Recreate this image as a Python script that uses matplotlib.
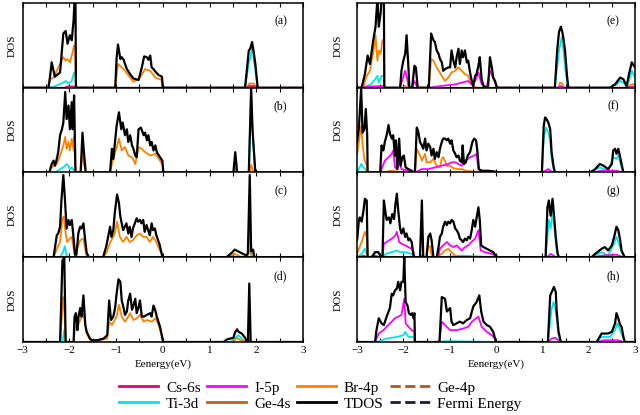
import matplotlib
matplotlib.use('Agg')
import matplotlib.pyplot as plt
from matplotlib.lines import Line2D
from matplotlib.ticker import MultipleLocator

plt.rcParams['font.family'] = ['Liberation Serif', 'DejaVu Serif']

# 颜色
colors = {
    'Cs-6s': '#e8007a',
    'I-5p': '#ff00ff',
    'Br-4p': '#ff8000',
    'Ge-4p': '#b5561d',
    'Ti-3d': '#00e6e6',
    'Ge-4s': '#c0601a',
    'TDOS': 'black',
}

# ---------------- (a) ----------------
a_tdos = [(-3, 0), (-2.45, 0), (-2.41, 0.15), (-2.38, 0.30), (-2.31, 0.13), (-2.2, 0.18), (-2.13, 0.64), (-2.08, 0.67),
          (-2.04, 0.52), (-1.99, 0.62), (-1.95, 0.56), (-1.91, 0.80), (-1.89, 1.05), (-1.87, 1.05), (-1.86, 0),
          (-1.02, 0), (-0.99, 0.35), (-0.96, 0.51), (-0.91, 0.34), (-0.88, 0.36), (-0.84, 0.33), (-0.77, 0.22),
          (-0.7, 0.16), (-0.63, 0.11), (-0.52, 0.09), (-0.45, 0.24), (-0.4, 0.37), (-0.34, 0.36), (-0.31, 0.33),
          (-0.27, 0.38), (-0.24, 0.24), (-0.2, 0.22), (-0.16, 0.19), (-0.09, 0.15), (-0.02, 0.13), (0.0, 0),
          (1.76, 0), (1.84, 0.44), (1.87, 0.46), (1.91, 0.54), (1.94, 0.44), (1.98, 0.28), (2.03, 0), (3, 0)]
a_br = [(-3, 0), (-2.45, 0), (-2.41, 0.1), (-2.34, 0.12), (-2.2, 0.28), (-2.13, 0.36), (-2.08, 0.32), (-2.04, 0.34),
        (-1.99, 0.30), (-1.94, 0.4), (-1.9, 0.5), (-1.88, 0.5), (-1.86, 0), (-1.02, 0), (-0.96, 0.28), (-0.84, 0.22),
        (-0.63, 0.07), (-0.49, 0.12), (-0.38, 0.22), (-0.27, 0.2), (-0.16, 0.12), (-0.02, 0.09), (0, 0),
        (1.8, 0), (1.85, 0.05), (1.95, 0.05), (2.0, 0), (3, 0)]
a_ti = [(-3, 0), (-2.45, 0), (-2.3, 0.02), (-2.13, 0.06), (-2.08, 0.08), (-2.02, 0.05), (-1.95, 0.08), (-1.9, 0.18),
        (-1.88, 0.18), (-1.86, 0), (1.76, 0), (1.84, 0.30), (1.88, 0.36), (1.91, 0.48), (1.94, 0.36), (1.98, 0.2),
        (2.03, 0), (3, 0)]
a_cs = [(-3, 0), (-2.1, 0), (-2.05, 0.015), (-1.9, 0.015), (-1.87, 0), (1.8, 0), (1.85, 0.02), (1.95, 0.02),
        (2.0, 0), (3, 0)]

# ---------------- (b) ----------------
b_tdos = [(-3, 0), (-2.43, 0), (-2.38, 0.1), (-2.34, 0.14), (-2.31, 0.08), (-2.27, 0.16), (-2.24, 0.24), (-2.2, 0.44),
          (-2.16, 0.51), (-2.13, 0.59), (-2.09, 0.95), (-2.06, 0.63), (-2.02, 0.79), (-1.99, 0.51), (-1.95, 0.83),
          (-1.93, 0.51), (-1.9, 0.91), (-1.87, 0), (-1.76, 0), (-1.72, 0.47), (-1.69, 0.24), (-1.65, 0),
          (-1.13, 0), (-1.09, 0.28), (-1.06, 0.16), (-0.99, 0.55), (-0.94, 0.71), (-0.89, 0.51), (-0.86, 0.59),
          (-0.81, 0.44), (-0.77, 0.51), (-0.74, 0.36), (-0.7, 0.44), (-0.66, 0.32), (-0.63, 0.28), (-0.59, 0.2),
          (-0.56, 0.18), (-0.52, 0.51), (-0.47, 0.53), (-0.41, 0.44), (-0.38, 0.47), (-0.34, 0.38), (-0.31, 0.44),
          (-0.27, 0.32), (-0.24, 0.36), (-0.2, 0.26), (-0.16, 0.32), (-0.13, 0.24), (-0.06, 0.18), (-0.01, 0.14),
          (0.01, 0), (1.51, 0), (1.55, 0.24), (1.59, 0), (1.84, 0), (1.89, 1.0), (1.92, 0.5), (1.98, 0), (3, 0)]
b_br = [(-3, 0), (-2.43, 0), (-2.38, 0.06), (-2.27, 0.1), (-2.2, 0.2), (-2.13, 0.32), (-2.09, 0.42), (-2.06, 0.28),
        (-2.02, 0.36), (-1.99, 0.26), (-1.95, 0.4), (-1.91, 0.26), (-1.9, 0.43), (-1.87, 0), (-1.76, 0),
        (-1.72, 0.24), (-1.69, 0.1), (-1.65, 0), (-1.13, 0), (-1.09, 0.1), (-0.99, 0.3), (-0.94, 0.4),
        (-0.88, 0.26), (-0.81, 0.3), (-0.74, 0.2), (-0.66, 0.18), (-0.59, 0.1), (-0.52, 0.3), (-0.45, 0.28),
        (-0.38, 0.24), (-0.27, 0.2), (-0.16, 0.22), (-0.06, 0.14), (0, 0.08), (0.01, 0), (1.52, 0), (1.55, 0.06),
        (1.58, 0), (1.86, 0), (1.89, 0.09), (1.93, 0.02), (1.98, 0), (3, 0)]
b_ti = [(-3, 0), (-2.3, 0), (-2.2, 0.04), (-2.13, 0.06), (-2.06, 0.1), (-2.02, 0.08), (-1.99, 0.04), (-1.95, 0.06),
        (-1.9, 0.02), (-1.87, 0), (1.84, 0), (1.88, 0.8), (1.91, 0.6), (1.94, 0.3), (1.98, 0), (3, 0)]

# ---------------- (c) ----------------
c_tdos = [(-3, 0), (-2.34, 0), (-2.27, 0.26), (-2.24, 0.28), (-2.2, 0.36), (-2.17, 0.68), (-2.13, 0.97), (-2.1, 0.72),
          (-2.06, 0.34), (-2.02, 0.44), (-1.99, 0.38), (-1.95, 0.44), (-1.92, 0.28), (-1.88, 0.03), (-1.85, 0.03),
          (-1.81, 0.28), (-1.77, 0.36), (-1.74, 0.34), (-1.7, 0.40), (-1.67, 0.24), (-1.63, 0.05), (-1.58, 0),
          (-1.28, 0), (-1.21, 0.13), (-1.13, 0.36), (-1.1, 0.24), (-1.06, 0.32), (-1.03, 0.52), (-0.98, 0.74),
          (-0.94, 0.64), (-0.91, 0.48), (-0.85, 0.32), (-0.78, 0.40), (-0.74, 0.28), (-0.71, 0.36), (-0.67, 0.24),
          (-0.64, 0.34), (-0.56, 0.46), (-0.53, 0.42), (-0.49, 0.44), (-0.46, 0.40), (-0.42, 0.44), (-0.39, 0.30),
          (-0.35, 0.38), (-0.28, 0.26), (-0.24, 0.40), (-0.21, 0.32), (-0.17, 0.34), (-0.14, 0.26), (-0.07, 0.15),
          (-0.02, 0.03), (0, 0), (1.36, 0), (1.47, 0.05), (1.54, 0.09), (1.61, 0.07), (1.68, 0.05), (1.79, 0.02),
          (1.82, 0.05), (1.86, 0.97), (1.89, 0.07), (1.93, 0.09), (1.96, 0), (3, 0)]
c_br = [(-3, 0), (-2.34, 0), (-2.27, 0.1), (-2.2, 0.18), (-2.15, 0.46), (-2.12, 0.48), (-2.08, 0.28), (-2.05, 0.18),
        (-1.99, 0.22), (-1.95, 0.24), (-1.92, 0.14), (-1.88, 0.01), (-1.81, 0.14), (-1.77, 0.2), (-1.7, 0.22),
        (-1.67, 0.12), (-1.63, 0.01), (-1.58, 0), (-1.28, 0), (-1.21, 0.05), (-1.13, 0.17), (-1.03, 0.28),
        (-0.98, 0.42), (-0.92, 0.24), (-0.85, 0.18), (-0.78, 0.24), (-0.71, 0.18), (-0.64, 0.2), (-0.56, 0.26),
        (-0.49, 0.28), (-0.42, 0.24), (-0.35, 0.24), (-0.28, 0.18), (-0.21, 0.24), (-0.14, 0.18), (-0.07, 0.09),
        (-0.01, 0.02), (0, 0), (1.4, 0), (1.54, 0.04), (1.65, 0.01), (1.82, 0), (1.86, 0.1), (1.9, 0.04),
        (1.94, 0.02), (1.96, 0), (3, 0)]
c_ti = [(-3, 0), (-2.2, 0), (-2.13, 0.07), (-2.1, 0.13), (-2.06, 0.02), (-2.0, 0), (1.82, 0), (1.86, 0.4),
        (1.88, 0.05), (1.9, 0), (3, 0)]

# ---------------- (d) ----------------
d_tdos = [(-3, 0), (-2.2, 0), (-2.15, 0.96), (-2.11, 1.0), (-2.08, 0), (-1.91, 0), (-1.89, 0.3), (-1.86, 0.34),
          (-1.83, 0.14), (-1.81, 0.28), (-1.77, 0.40), (-1.74, 0.30), (-1.7, 0.55), (-1.66, 0.2), (-1.63, 0.12),
          (-1.56, 0.04), (-1.52, 0.02), (-1.41, 0.02), (-1.27, 0.04), (-1.19, 0.08), (-1.15, 0.49), (-1.11, 0.26),
          (-1.06, 0.30), (-1.02, 0.41), (-0.99, 0.57), (-0.95, 0.74), (-0.91, 0.71), (-0.88, 0.49), (-0.84, 0.40),
          (-0.81, 0.32), (-0.77, 0.36), (-0.74, 0.49), (-0.7, 0.57), (-0.66, 0.38), (-0.63, 0.43), (-0.59, 0.51),
          (-0.56, 0.34), (-0.52, 0.41), (-0.49, 0.49), (-0.45, 0.30), (-0.41, 0.30), (-0.34, 0.32), (-0.27, 0.34),
          (-0.24, 0.30), (-0.2, 0.43), (-0.16, 0.37), (-0.13, 0.30), (-0.06, 0.18), (0, 0.02), (0.01, 0),
          (1.3, 0), (1.37, 0.03), (1.44, 0.04), (1.51, 0.05), (1.55, 0.12), (1.59, 0.15), (1.62, 0.12),
          (1.69, 0.1), (1.76, 0.05), (1.8, 0), (1.82, 0), (1.85, 0.69), (1.88, 0), (3, 0)]
d_br = [(-3, 0), (-2.2, 0), (-2.15, 0.4), (-2.13, 0.53), (-2.1, 0.3), (-2.08, 0), (-1.91, 0), (-1.88, 0.18),
        (-1.81, 0.2), (-1.77, 0.26), (-1.7, 0.34), (-1.63, 0.1), (-1.56, 0.03), (-1.5, 0.01), (-1.19, 0.04),
        (-1.15, 0.24), (-1.09, 0.2), (-0.99, 0.3), (-0.94, 0.44), (-0.88, 0.3), (-0.81, 0.24), (-0.74, 0.3),
        (-0.7, 0.34), (-0.63, 0.26), (-0.56, 0.28), (-0.49, 0.32), (-0.41, 0.24), (-0.34, 0.26), (-0.24, 0.24),
        (-0.16, 0.28), (-0.09, 0.2), (0, 0.02), (0.01, 0), (1.5, 0), (1.59, 0.05), (1.66, 0.02), (1.84, 0),
        (1.85, 0.06), (1.88, 0), (3, 0)]
d_ti = [(-3, 0), (-2.15, 0), (-2.11, 0.14), (-2.09, 0), (1.45, 0), (1.55, 0.05), (1.62, 0.08), (1.69, 0.04),
        (1.76, 0), (1.84, 0), (1.85, 0.03), (1.88, 0), (3, 0)]

# ---------------- (e) ----------------
e_tdos = [(-3, 0), (-2.9, 0), (-2.83, 0.16), (-2.77, 0.38), (-2.72, 0.28), (-2.68, 0.44), (-2.65, 0.56), (-2.6, 0.72),
          (-2.56, 1.05), (-2.53, 0.72), (-2.49, 0.88), (-2.47, 1.05), (-2.42, 1.05), (-2.41, 0), (-2.07, 0),
          (-2.04, 0.2), (-2.0, 0.32), (-1.96, 0.4), (-1.93, 0.62), (-1.89, 0.24), (-1.87, 0), (-1.81, 0),
          (-1.76, 0.26), (-1.73, 0.24), (-1.69, 0), (-1.45, 0), (-1.4, 0.64), (-1.35, 0.56), (-1.32, 0.54),
          (-1.28, 0.44), (-1.24, 0.4), (-1.21, 0.34), (-1.17, 0.3), (-1.14, 0.2), (-1.1, 0.22), (-1.03, 0.24),
          (-0.99, 0.24), (-0.96, 0.44), (-0.92, 0.32), (-0.88, 0.24), (-0.85, 0.36), (-0.81, 0.46), (-0.78, 0.28),
          (-0.74, 0.44), (-0.71, 0.36), (-0.67, 0.44), (-0.63, 0.3), (-0.6, 0.32), (-0.56, 0.18), (-0.53, 0.1),
          (-0.49, 0.02), (-0.45, 0.14), (-0.42, 0.16), (-0.38, 0.26), (-0.35, 0.36), (-0.31, 0.1), (-0.27, 0.02),
          (-0.2, 0), (-0.17, 0.02), (-0.13, 0.36), (-0.09, 0.24), (-0.06, 0.12), (-0.02, 0.08), (0.01, 0.02),
          (0.04, 0), (1.27, 0), (1.32, 0.44), (1.36, 0.66), (1.4, 0.72), (1.43, 0.66), (1.45, 0.6), (1.49, 0.44),
          (1.53, 0.16), (1.56, 0), (2.46, 0), (2.57, 0.04), (2.68, 0.12), (2.75, 0.1), (2.82, 0.02), (2.87, 0.16),
          (2.93, 0.3), (3.0, 0.24)]
e_br = [(-3, 0), (-2.9, 0), (-2.86, 0.02), (-2.79, 0.14), (-2.72, 0.2), (-2.68, 0.34), (-2.65, 0.4), (-2.6, 0.62),
        (-2.56, 0.32), (-2.53, 0.44), (-2.49, 0.4), (-2.45, 0.56), (-2.42, 0.56), (-2.41, 0), (-2.0, 0),
        (-1.96, 0.02), (-1.9, 0), (-1.45, 0), (-1.4, 0.34), (-1.35, 0.32), (-1.28, 0.24), (-1.17, 0.14),
        (-1.1, 0.08), (-1.03, 0.12), (-0.96, 0.18), (-0.88, 0.2), (-0.81, 0.24), (-0.74, 0.2), (-0.67, 0.16),
        (-0.6, 0.14), (-0.53, 0.04), (-0.45, 0.01), (-0.4, 0), (1.35, 0), (1.38, 0.06), (1.43, 0.05), (1.46, 0),
        (2.8, 0), (2.93, 0.04), (3.0, 0.04)]
e_ti = [(-3, 0), (-2.86, 0), (-2.7, 0.04), (-2.61, 0.1), (-2.56, 0.14), (-2.53, 0.06), (-2.47, 0.14), (-2.42, 0.14),
        (-2.41, 0), (1.27, 0), (1.32, 0.24), (1.36, 0.44), (1.42, 0.6), (1.45, 0.48), (1.49, 0.24), (1.53, 0.08),
        (1.56, 0), (2.46, 0), (2.6, 0.04), (2.68, 0.08), (2.75, 0.06), (2.82, 0.01), (2.87, 0.08), (2.93, 0.2),
        (3.0, 0.12)]
e_i = [(-3, 0), (-2.85, 0.01), (-2.5, 0.02), (-2.42, 0.02), (-2.41, 0), (-2.07, 0), (-2.04, 0.06), (-1.96, 0.2),
       (-1.93, 0.14), (-1.89, 0.02), (-1.87, 0), (-1.81, 0), (-1.76, 0.08), (-1.73, 0.04), (-1.69, 0), (-1.45, 0),
       (-1.2, 0.02), (-0.88, 0.04), (-0.74, 0.06), (-0.6, 0.08), (-0.53, 0.04), (-0.45, 0.08), (-0.38, 0.18),
       (-0.35, 0.12), (-0.31, 0.04), (-0.2, 0.01), (-0.13, 0.2), (-0.08, 0.14), (-0.02, 0.06), (0.01, 0.01),
       (0.04, 0), (1.3, 0), (1.4, 0.02), (1.5, 0), (2.8, 0), (2.93, 0.01), (3, 0.01)]

# ---------------- (f) ----------------
f_tdos = [(-3, 0.35), (-2.99, 0.4), (-2.96, 0.52), (-2.91, 1.0), (-2.88, 0.47), (-2.84, 0.51), (-2.81, 0.75),
          (-2.78, 0.44), (-2.77, 0), (-2.5, 0), (-2.47, 0.32), (-2.43, 0.26), (-2.4, 0.36), (-2.36, 0.44),
          (-2.32, 0.56), (-2.29, 0.46), (-2.25, 0.4), (-2.22, 0.44), (-2.18, 0.2), (-2.16, 0.38), (-2.13, 0.04),
          (-2.09, 0.4), (-2.06, 0.08), (-2.02, 0.18), (-1.99, 0.2), (-1.95, 0.06), (-1.89, 0.04), (-1.82, 0.02),
          (-1.76, 0), (-1.75, 0), (-1.71, 0.53), (-1.68, 0.49), (-1.64, 0.36), (-1.6, 0.32), (-1.57, 0.28),
          (-1.53, 0.4), (-1.5, 0.26), (-1.46, 0.34), (-1.42, 0.3), (-1.39, 0.2), (-1.35, 0.28), (-1.32, 0.16),
          (-1.28, 0.24), (-1.24, 0.18), (-1.21, 0.28), (-1.17, 0.36), (-1.14, 0.4), (-1.1, 0.4), (-1.06, 0.38),
          (-1.03, 0.4), (-0.99, 0.34), (-0.96, 0.38), (-0.92, 0.26), (-0.88, 0.22), (-0.85, 0.18), (-0.81, 0.2),
          (-0.78, 0.14), (-0.74, 0.12), (-0.72, 0.32), (-0.69, 0.1), (-0.65, 0.12), (-0.61, 0.2), (-0.56, 0.24),
          (-0.51, 0.36), (-0.47, 0.4), (-0.43, 0.38), (-0.4, 0.24), (-0.37, 0.04), (-0.31, 0.02), (-0.17, 0.02),
          (-0.02, 0.01), (0.01, 0), (0.99, 0), (1.03, 0.55), (1.06, 0.65), (1.09, 0.63), (1.13, 0.59), (1.17, 0.51),
          (1.2, 0.24), (1.24, 0.08), (1.27, 0), (2.03, 0), (2.14, 0.04), (2.24, 0.1), (2.32, 0.08), (2.42, 0.04),
          (2.5, 0.1), (2.53, 0.26), (2.57, 0.28), (2.6, 0.22), (2.64, 0.28), (2.68, 0.18), (2.71, 0.1), (2.75, 0),
          (3, 0)]
f_br = [(-3, 0.2), (-2.96, 0.36), (-2.91, 0.55), (-2.88, 0.34), (-2.84, 0.16), (-2.79, 0.08), (-2.77, 0), (-2.4, 0),
        (-2.3, 0.02), (-2.25, 0.02), (-2.1, 0.01), (-2.0, 0), (-1.75, 0), (-1.71, 0.28), (-1.64, 0.2), (-1.6, 0.14),
        (-1.53, 0.22), (-1.5, 0.12), (-1.42, 0.12), (-1.35, 0.16), (-1.28, 0.08), (-1.21, 0.06), (-1.17, 0.16),
        (-1.14, 0.18), (-1.06, 0.08), (-0.99, 0.08), (-0.92, 0.05), (-0.81, 0.04), (-0.74, 0.04), (-0.65, 0.02),
        (-0.5, 0.01), (0, 0), (3, 0)]
f_ti = [(-3, 0), (-2.96, 0.04), (-2.91, 0.1), (-2.86, 0.06), (-2.79, 0.02), (-2.77, 0), (0.99, 0), (1.03, 0.4),
        (1.08, 0.53), (1.13, 0.47), (1.17, 0.38), (1.2, 0.16), (1.24, 0.04), (1.27, 0), (2.03, 0), (2.24, 0.06),
        (2.42, 0.02), (2.53, 0.18), (2.6, 0.16), (2.64, 0.2), (2.71, 0.06), (2.75, 0), (3, 0)]
f_i = [(-3, 0), (-2.5, 0), (-2.47, 0.04), (-2.4, 0.14), (-2.32, 0.18), (-2.25, 0.22), (-2.22, 0.26), (-2.18, 0.06),
       (-2.13, 0.04), (-2.09, 0.14), (-2.04, 0.04), (-1.89, 0.02), (-1.76, 0), (-1.75, 0), (-1.6, 0.04),
       (-1.46, 0.04), (-1.32, 0.06), (-1.17, 0.08), (-1.03, 0.1), (-0.96, 0.12), (-0.88, 0.12), (-0.81, 0.1),
       (-0.74, 0.08), (-0.67, 0.14), (-0.56, 0.18), (-0.47, 0.2), (-0.42, 0.22), (-0.38, 0.04), (-0.31, 0.02),
       (-0.09, 0.02), (0.01, 0), (0.99, 0), (1.06, 0.02), (1.13, 0.04), (1.2, 0.01), (1.27, 0), (2.1, 0),
       (2.26, 0.02), (2.6, 0.02), (2.75, 0), (3, 0)]

# ---------------- (g) ----------------
g_tdos = [(-3, 0.2), (-2.99, 0.24), (-2.96, 0.44), (-2.94, 0.47), (-2.9, 0.42), (-2.86, 0.55), (-2.83, 0.69),
          (-2.79, 0.67), (-2.77, 0), (-2.68, 0), (-2.61, 0.06), (-2.54, 0.06), (-2.5, 0.02), (-2.45, 0),
          (-2.42, 0.67), (-2.38, 0.51), (-2.36, 0.44), (-2.31, 0.47), (-2.28, 0.4), (-2.24, 0.51), (-2.2, 0.45),
          (-2.17, 0.63), (-2.14, 0.75), (-2.11, 0.55), (-2.07, 0.34), (-2.04, 0.28), (-2.0, 0.34), (-1.96, 0.24),
          (-1.93, 0.28), (-1.89, 0.2), (-1.86, 0.22), (-1.82, 0.18), (-1.78, 0.02), (-1.76, 0), (-1.64, 0),
          (-1.6, 0.67), (-1.57, 0), (-1.5, 0), (-1.46, 0.24), (-1.42, 0.28), (-1.39, 0.2), (-1.35, 0), (-1.28, 0),
          (-1.24, 0.12), (-1.21, 0.24), (-1.17, 0.28), (-1.14, 0.36), (-1.1, 0.42), (-1.06, 0.38), (-1.03, 0.42),
          (-0.99, 0.4), (-0.96, 0.44), (-0.92, 0.42), (-0.88, 0.34), (-0.85, 0.32), (-0.81, 0.28), (-0.78, 0.22),
          (-0.74, 0.2), (-0.71, 0.18), (-0.67, 0.22), (-0.63, 0.2), (-0.6, 0.24), (-0.56, 0.22), (-0.53, 0.3),
          (-0.49, 0.44), (-0.45, 0.36), (-0.42, 0.46), (-0.38, 0.59), (-0.35, 0.44), (-0.32, 0.14), (-0.27, 0.12),
          (-0.2, 0.1), (-0.13, 0.08), (-0.06, 0.06), (0.01, 0.01), (0.05, 0), (1.07, 0), (1.11, 0.59), (1.14, 0.67),
          (1.18, 0.49), (1.22, 0.69), (1.25, 0.51), (1.29, 0.24), (1.33, 0.04), (1.36, 0), (2.06, 0), (2.14, 0.04),
          (2.28, 0.1), (2.35, 0.12), (2.42, 0.08), (2.5, 0.14), (2.55, 0.24), (2.6, 0.36), (2.64, 0.32),
          (2.68, 0.2), (2.71, 0.08), (2.76, 0.02), (2.78, 0), (3, 0)]
g_br = [(-3, 0.04), (-2.96, 0.1), (-2.9, 0.18), (-2.83, 0.3), (-2.79, 0.24), (-2.77, 0), (-2.45, 0), (-2.4, 0.01),
        (-2.2, 0), (-1.5, 0), (-1.46, 0.14), (-1.42, 0.12), (-1.39, 0.02), (-1.35, 0), (-1.28, 0), (-1.24, 0.02),
        (-1.17, 0.04), (-1.1, 0.08), (-1.03, 0.1), (-0.96, 0.06), (-0.88, 0.02), (-0.81, 0.01), (-0.7, 0), (3, 0)]
g_ti = [(-3, 0), (-2.9, 0.04), (-2.86, 0.08), (-2.83, 0.1), (-2.79, 0.04), (-2.77, 0), (-2.45, 0), (-2.38, 0.04),
        (-2.25, 0.06), (-2.14, 0.08), (-2.07, 0.06), (-1.96, 0.06), (-1.82, 0.04), (-1.76, 0), (-1.2, 0),
        (-0.74, 0.02), (0, 0), (1.07, 0), (1.11, 0.24), (1.14, 0.44), (1.18, 0.34), (1.22, 0.55), (1.26, 0.34),
        (1.31, 0.08), (1.36, 0), (2.06, 0), (2.28, 0.06), (2.42, 0.02), (2.53, 0.14), (2.6, 0.24), (2.64, 0.18),
        (2.71, 0.06), (2.78, 0), (3, 0)]
g_i = [(-3, 0), (-2.85, 0.02), (-2.77, 0), (-2.61, 0.02), (-2.5, 0), (-2.45, 0), (-2.42, 0.16), (-2.36, 0.18),
       (-2.25, 0.22), (-2.2, 0.24), (-2.17, 0.26), (-2.14, 0.3), (-2.09, 0.18), (-2.04, 0.16), (-1.96, 0.14),
       (-1.89, 0.12), (-1.82, 0.1), (-1.78, 0.06), (-1.76, 0), (-1.62, 0), (-1.6, 0.02), (-1.57, 0), (-1.28, 0),
       (-1.24, 0.02), (-1.21, 0.1), (-1.14, 0.14), (-1.06, 0.18), (-0.99, 0.14), (-0.92, 0.12), (-0.85, 0.14),
       (-0.78, 0.1), (-0.74, 0.08), (-0.67, 0.12), (-0.6, 0.14), (-0.53, 0.18), (-0.45, 0.22), (-0.38, 0.32),
       (-0.33, 0.08), (-0.24, 0.06), (-0.09, 0.04), (0.02, 0.01), (0.05, 0), (1.1, 0), (1.18, 0.04), (1.24, 0.02),
       (1.3, 0), (2.1, 0), (2.28, 0.02), (2.6, 0.03), (2.75, 0), (3, 0)]

# ---------------- (h) ----------------
h_tdos = [(-3, 0), (-2.61, 0), (-2.58, 0.14), (-2.53, 0.28), (-2.47, 0.22), (-2.42, 0.2), (-2.36, 0.3), (-2.29, 0.4),
          (-2.25, 0.57), (-2.22, 0.55), (-2.18, 0.61), (-2.14, 0.63), (-2.11, 0.71), (-2.07, 0.61), (-2.04, 0.71),
          (-2.0, 0.71), (-1.98, 1.0), (-1.95, 0.47), (-1.91, 0.43), (-1.88, 0.34), (-1.84, 0.32), (-1.81, 0.34),
          (-1.78, 0.28), (-1.76, 0.34), (-1.75, 0), (-1.22, 0), (-1.17, 0.53), (-1.1, 0.51), (-1.06, 0.36),
          (-0.99, 0.4), (-0.96, 0.24), (-0.92, 0.2), (-0.85, 0.22), (-0.78, 0.24), (-0.71, 0.22), (-0.63, 0.26),
          (-0.56, 0.28), (-0.49, 0.42), (-0.42, 0.47), (-0.36, 0.55), (-0.32, 0.36), (-0.27, 0.24), (-0.2, 0.2),
          (-0.13, 0.18), (-0.06, 0.12), (-0.01, 0.02), (0.01, 0), (1.12, 0), (1.17, 0.55), (1.22, 0.61),
          (1.25, 0.65), (1.29, 0.59), (1.31, 0.36), (1.35, 0.12), (1.4, 0), (2.17, 0), (2.28, 0.1), (2.42, 0.1),
          (2.5, 0.12), (2.57, 0.22), (2.6, 0.34), (2.64, 0.28), (2.68, 0.2), (2.71, 0.18), (2.75, 0.06), (2.78, 0),
          (3, 0)]
h_i = [(-3, 0), (-2.61, 0), (-2.58, 0.04), (-2.53, 0.1), (-2.43, 0.14), (-2.36, 0.18), (-2.29, 0.22), (-2.25, 0.24),
       (-2.18, 0.28), (-2.11, 0.3), (-2.04, 0.32), (-1.98, 0.51), (-1.95, 0.22), (-1.89, 0.18), (-1.82, 0.14),
       (-1.76, 0.12), (-1.75, 0), (-1.22, 0), (-1.17, 0.24), (-1.1, 0.2), (-0.99, 0.14), (-0.85, 0.14),
       (-0.7, 0.16), (-0.6, 0.18), (-0.52, 0.24), (-0.38, 0.3), (-0.31, 0.18), (-0.2, 0.12), (-0.09, 0.08),
       (-0.02, 0.04), (0.01, 0), (1.12, 0), (1.2, 0.04), (1.28, 0.05), (1.35, 0.02), (1.4, 0), (2.2, 0),
       (2.32, 0.02), (2.64, 0.02), (2.75, 0), (3, 0)]
h_ti = [(-3, 0), (-2.58, 0), (-2.36, 0.04), (-2.14, 0.06), (-2.0, 0.08), (-1.96, 0.12), (-1.89, 0.06), (-1.78, 0.06),
        (-1.75, 0), (-1.2, 0), (-1.1, 0.01), (0, 0), (1.12, 0), (1.17, 0.24), (1.2, 0.39), (1.24, 0.47),
        (1.27, 0.43), (1.31, 0.28), (1.35, 0.08), (1.4, 0), (2.17, 0), (2.28, 0.06), (2.46, 0.06), (2.57, 0.14),
        (2.62, 0.22), (2.68, 0.14), (2.75, 0.04), (2.78, 0), (3, 0)]

panels = [
    ('(a)', {'Ti-3d': a_ti, 'Br-4p': a_br, 'Cs-6s': a_cs, 'TDOS': a_tdos}),
    ('(b)', {'Ti-3d': b_ti, 'Br-4p': b_br, 'TDOS': b_tdos}),
    ('(c)', {'Ti-3d': c_ti, 'Br-4p': c_br, 'TDOS': c_tdos}),
    ('(d)', {'Ti-3d': d_ti, 'Br-4p': d_br, 'TDOS': d_tdos}),
    ('(e)', {'Ti-3d': e_ti, 'Br-4p': e_br, 'I-5p': e_i, 'TDOS': e_tdos}),
    ('(f)', {'Ti-3d': f_ti, 'Br-4p': f_br, 'I-5p': f_i, 'TDOS': f_tdos}),
    ('(g)', {'Ti-3d': g_ti, 'Br-4p': g_br, 'I-5p': g_i, 'TDOS': g_tdos}),
    ('(h)', {'Ti-3d': h_ti, 'I-5p': h_i, 'TDOS': h_tdos}),
]

fig = plt.figure(figsize=(6.4, 4.15), dpi=100)

col_x = [22.7 / 640, 357 / 640]
col_w = [280.3 / 640, 278 / 640]
row_top = 3
row_h = 84.75

for i, (tag, series) in enumerate(panels):
    col = i // 4
    row = i % 4
    y0 = 1 - (row_top + (row + 1) * row_h) / 415
    ax = fig.add_axes([col_x[col], y0, col_w[col], row_h / 415])
    for name in ['Ti-3d', 'Br-4p', 'I-5p', 'Cs-6s', 'TDOS']:
        if name not in series:
            continue
        e, v = zip(*series[name])
        lw = 1.6 if name == 'TDOS' else 1.3
        ax.plot(e, v, color=colors[name], lw=lw)
    ax.set_xlim(-3, 3)
    ax.set_ylim(0, 1.0)
    ax.set_yticks([])
    ax.xaxis.set_major_locator(MultipleLocator(1))
    ax.xaxis.set_minor_locator(MultipleLocator(0.5))
    ax.tick_params(axis='x', which='both', direction='in', top=True, bottom=True, length=3, width=0.8,
                   labelsize=8, pad=3)
    for s in ax.spines.values():
        s.set_linewidth(1.1)
    ax.set_ylabel('DOS', fontsize=8, labelpad=4 if col == 0 else 10)
    ax.text(0.92, 0.78, tag, transform=ax.transAxes, ha='center', va='center', fontsize=8.5)
    if row < 3:
        ax.tick_params(axis='x', labelbottom=False)
    else:
        ax.set_xlabel('Eenergy(eV)', fontsize=8, labelpad=3)

# 图例
names = ['Cs-6s', 'Ti-3d', 'I-5p', 'Ge-4s', 'Br-4p', 'TDOS', 'Ge-4p', 'Fermi Energy']
handles = []
for n in names:
    if n == 'Ge-4p':
        handles.append(Line2D([], [], color=colors['Ge-4p'], lw=2, ls='--'))
    elif n == 'Fermi Energy':
        handles.append(Line2D([], [], color='#1b1b3a', lw=2, ls='--'))
    else:
        handles.append(Line2D([], [], color=colors[n], lw=2))
fig.legend(handles, names, ncol=4, loc='center', bbox_to_anchor=(0.5, 0.046), frameon=False, fontsize=11,
           handlelength=2.6, columnspacing=0.4, labelspacing=0.15, handletextpad=0.5)

fig.savefig('out.png', dpi=100)
